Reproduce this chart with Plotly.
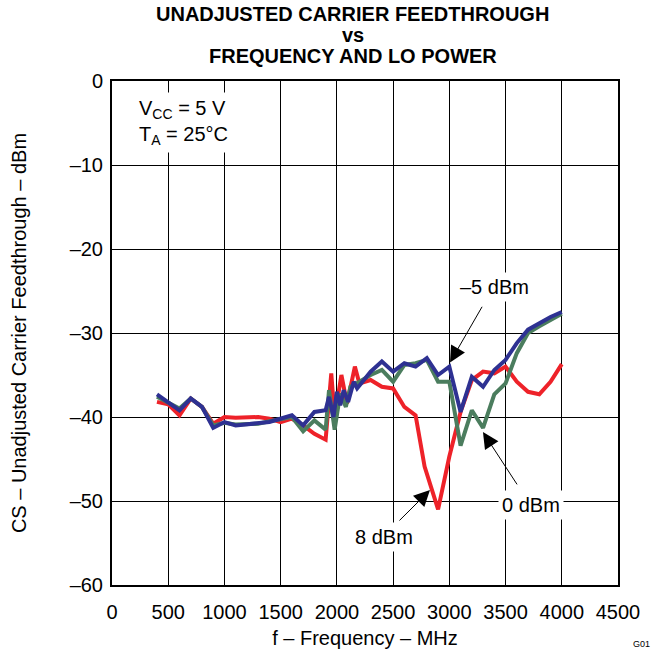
import plotly.graph_objects as go

# Frequency (MHz) and carrier feedthrough (dBm) for each LO drive level
freq_8dbm = [400, 500, 600, 700, 800, 900, 1000, 1100, 1300, 1400, 1500, 1600, 1700, 1800, 1900,
             1950, 1980, 2040, 2090, 2160, 2200, 2300, 2400, 2500, 2600, 2700, 2780, 2900, 3000,
             3100, 3200, 3300, 3400, 3500, 3600, 3700, 3800, 3900, 4000]
cs_8dbm = [-38.2, -38.5, -39.8, -37.8, -38.8, -40.8, -40.0, -40.1, -40.0, -40.2, -40.6, -40.2, -41.0,
           -42.0, -42.7, -34.8, -40.0, -35.0, -38.4, -34.0, -36.0, -35.6, -36.4, -36.6, -38.8, -39.8,
           -45.9, -51.0, -44.7, -39.4, -35.6, -34.6, -34.8, -34.0, -35.8, -37.0, -37.3, -35.8, -33.7]

freq_0dbm = [400, 600, 700, 800, 900, 1000, 1100, 1300, 1400, 1500, 1600, 1700, 1800, 1900, 1930,
             1980, 2030, 2080, 2120, 2200, 2300, 2400, 2500, 2600, 2700, 2800, 2900, 3000, 3100,
             3200, 3300, 3400, 3500, 3600, 3700, 3800, 3900, 4000]
cs_0dbm = [-37.6, -39.0, -37.8, -38.8, -41.0, -40.7, -40.9, -40.8, -40.5, -40.3, -40.0, -41.7, -40.4,
           -41.5, -36.8, -41.5, -37.2, -38.8, -36.4, -35.8, -35.0, -34.4, -35.8, -33.8, -33.6, -33.2,
           -35.8, -35.8, -43.4, -39.2, -41.3, -37.3, -36.0, -32.4, -30.0, -29.2, -28.4, -27.7]

freq_m5dbm = [400, 600, 700, 800, 900, 1000, 1100, 1300, 1400, 1600, 1700, 1800, 1900, 1930, 1970,
              2000, 2030, 2060, 2100, 2150, 2180, 2300, 2400, 2500, 2600, 2700, 2800, 2900, 3000,
              3100, 3200, 3300, 3400, 3500, 3600, 3700, 3800, 3900, 4000]
cs_m5dbm = [-37.3, -39.2, -37.8, -38.8, -41.3, -40.6, -41.0, -40.8, -40.6, -39.8, -41.0, -39.4, -39.2,
            -37.6, -40.0, -37.0, -38.6, -36.8, -38.2, -35.8, -36.6, -34.6, -33.4, -34.6, -33.6, -34.0,
            -33.0, -35.0, -34.0, -39.4, -35.2, -36.4, -34.4, -33.2, -31.2, -29.6, -28.8, -28.1, -27.5]

x_ticks = [0, 500, 1000, 1500, 2000, 2500, 3000, 3500, 4000, 4500]
y_ticks = [0, -10, -20, -30, -40, -50, -60]
y_ticktext = ["0", "–10", "–20", "–30", "–40", "–50", "–60"]

FONT = "Liberation Sans, Arial, Helvetica, sans-serif"
FS = 20

fig = go.Figure()
fig.add_trace(go.Scatter(x=freq_8dbm, y=cs_8dbm, mode="lines",
                         line=dict(color="#EE2229", width=4), name="8 dBm"))
fig.add_trace(go.Scatter(x=freq_0dbm, y=cs_0dbm, mode="lines",
                         line=dict(color="#4B7D5E", width=4), name="0 dBm"))
fig.add_trace(go.Scatter(x=freq_m5dbm, y=cs_m5dbm, mode="lines",
                         line=dict(color="#2E3192", width=4), name="–5 dBm"))

annotations = []

# Title lines
for text, y in [("UNADJUSTED CARRIER FEEDTHROUGH", 14), ("vs", 35), ("FREQUENCY AND LO POWER", 56)]:
    annotations.append(dict(text=f"<b>{text}</b>", xref="paper", yref="paper", x=0.476,
                            y=1 + (81 - y) / 504, xanchor="center", yanchor="middle",
                            showarrow=False, font=dict(size=FS, color="black", family=FONT)))

# Test conditions
annotations.append(dict(text="V<sub>CC</sub> = 5 V<br>T<sub>A</sub> = 25°C", x=195, y=-4.9,
                        xref="x", yref="y", xanchor="left", yanchor="middle", align="left",
                        showarrow=False, bgcolor="white", borderpad=4,
                        font=dict(size=FS, color="black", family=FONT)))

# Curve labels
for text, x, y in [("–5 dBm", 3406, -24.5), ("0 dBm", 3726, -50.5), ("8 dBm", 2419, -54.3)]:
    annotations.append(dict(text=text, x=x, y=y, xref="x", yref="y", showarrow=False,
                            bgcolor="white", borderpad=3,
                            font=dict(size=FS, color="black", family=FONT)))

# Leader arrows: (tip x, tip y, tail x, tail y)
for tx, ty, sx, sy in [(3006, -33.5, 3299, -26.7), (3299, -41.8, 3611, -48.2),
                       (2828, -48.7, 2543, -52.5)]:
    annotations.append(dict(text="", x=tx, y=ty, ax=sx, ay=sy, xref="x", yref="y",
                            axref="x", ayref="y", showarrow=True, arrowhead=2,
                            arrowsize=3.2, arrowwidth=1, arrowcolor="black"))

# Drawing reference number
annotations.append(dict(text="G01", xref="paper", yref="paper", x=1.068, y=-0.118,
                        xanchor="right", yanchor="middle", showarrow=False,
                        font=dict(size=9, color="black", family=FONT)))

fig.update_layout(
    width=653, height=655,
    margin=dict(l=112, r=35, t=81, b=70),
    paper_bgcolor="white", plot_bgcolor="white",
    showlegend=False,
    font=dict(family=FONT, size=FS, color="black"),
    annotations=annotations,
)
fig.update_xaxes(range=[0, 4500], tickvals=x_ticks, showgrid=True, gridcolor="black",
                 gridwidth=1, showline=True, linecolor="black", linewidth=2, mirror=True,
                 zeroline=False, ticks="", ticklabelstandoff=8, automargin=False,
                 title=dict(text="f – Frequency – MHz", standoff=9,
                            font=dict(size=FS, family=FONT)))
fig.update_yaxes(range=[-60, 0], tickvals=y_ticks, ticktext=y_ticktext, showgrid=True,
                 gridcolor="black", gridwidth=1, showline=True, linecolor="black", linewidth=2,
                 mirror=True, zeroline=False, ticks="", ticklabelstandoff=3, automargin=False,
                 title=dict(text="CS – Unadjusted Carrier Feedthrough – dBm", standoff=38,
                            font=dict(size=FS, family=FONT)))

fig.write_html("out.html")
